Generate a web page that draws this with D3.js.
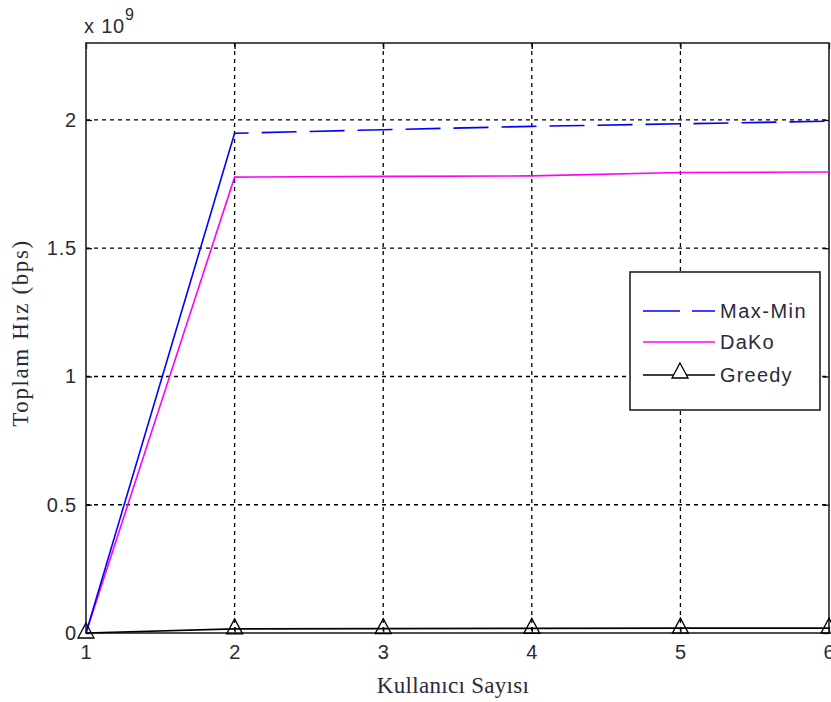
<!DOCTYPE html>
<html><head><meta charset="utf-8">
<script src="https://cdn.jsdelivr.net/npm/d3@7"></script>
<style>body{margin:0;background:#fff}</style>
</head><body>
<svg id="c" width="831" height="702"></svg>
<script>
const users = [1, 2, 3, 4, 5, 6];
const maxMin = [0, 1.948, 1.962, 1.975, 1.985, 1.995];
const dako   = [0, 1.777, 1.780, 1.782, 1.795, 1.797];
const greedy = [0, 0.016, 0.017, 0.018, 0.019, 0.019];
const xTicks = [1, 2, 3, 4, 5, 6];
const yTicks = [0, 0.5, 1, 1.5, 2];
const yTickLabels = ["0", "0.5", "1", "1.5", "2"];
const seriesNames = ["Max-Min", "DaKo", "Greedy"];

const svg = d3.select("#c");
const L = 86, R = 829, T = 43, B = 633;
const x = d3.scaleLinear().domain([1, 6]).range([L, R]);
const y = d3.scaleLinear().domain([0, 2.3]).range([B, T]);

// grid
const g = svg.append("g");
g.selectAll(".vg").data(xTicks.slice(1, -1)).enter().append("line")
  .attr("x1", d => x(d)).attr("x2", d => x(d)).attr("y1", T).attr("y2", B)
  .attr("stroke", "#000").attr("stroke-width", 1.3).attr("stroke-dasharray", "4,4");
g.selectAll(".hg").data(yTicks.slice(1)).enter().append("line")
  .attr("x1", L).attr("x2", R).attr("y1", d => y(d)).attr("y2", d => y(d))
  .attr("stroke", "#000").attr("stroke-width", 1.3).attr("stroke-dasharray", "4,4");

// axes
const fontTick = "'Liberation Sans', Arial, sans-serif";
const xAxis = d3.axisBottom(x).tickValues(xTicks).tickSize(-6).tickPadding(12).tickFormat(d3.format("d"));
svg.append("g").attr("transform", `translate(0,${B})`).call(xAxis);
const xAxisTop = d3.axisTop(x).tickValues(xTicks).tickSize(-6).tickFormat("");
svg.append("g").attr("transform", `translate(0,${T})`).call(xAxisTop);
const yAxis = d3.axisLeft(y).tickValues(yTicks).tickSize(-6).tickPadding(9).tickFormat((d, i) => yTickLabels[i]);
svg.append("g").attr("transform", `translate(${L},0)`).call(yAxis);
const yAxisR = d3.axisRight(y).tickValues(yTicks).tickSize(-6).tickFormat("");
svg.append("g").attr("transform", `translate(${R},0)`).call(yAxisR);
svg.selectAll(".domain").remove();
svg.selectAll(".tick line").attr("stroke", "#000").attr("stroke-width", 1.3);
svg.selectAll(".tick text").attr("font-family", fontTick).attr("font-size", 20)
  .attr("letter-spacing", 0.8).attr("fill", "#2a2a3a");

// frame
svg.append("rect").attr("x", L).attr("y", T).attr("width", R - L).attr("height", B - T)
  .attr("fill", "none").attr("stroke", "#222").attr("stroke-width", 1.6);

// multiplier
const mult = svg.append("text").attr("x", 84).attr("y", 33).attr("font-family", fontTick)
  .attr("font-size", 20).attr("letter-spacing", 0.8).attr("fill", "#2a2a3a").text("x 10");
mult.append("tspan").attr("dy", -13).attr("font-size", 16).text("9");

// triangle marker (bbox 16 x 15, data point at 2/3 height)
const triPath = (cx, cy) => `M${cx},${cy - 10}L${cx + 8},${cy + 5}L${cx - 8},${cy + 5}Z`;

// lines
const line = d3.line().x((d, i) => x(users[i])).y(d => y(d));
svg.append("path").datum(dako).attr("d", line).attr("fill", "none")
  .attr("stroke", "#ff00ff").attr("stroke-width", 1.6);
// Max-Min: rising segment drawn solid, the rest dashed (as rendered in the reference)
svg.append("path").datum(maxMin.slice(0, 2)).attr("d", line).attr("fill", "none")
  .attr("stroke", "#0000ff").attr("stroke-width", 1.6);
const line2 = d3.line().x((d, i) => x(users[i + 1])).y(d => y(d));
svg.append("path").datum(maxMin.slice(1)).attr("d", line2).attr("fill", "none")
  .attr("stroke", "#0000ff").attr("stroke-width", 1.6)
  .attr("stroke-dasharray", "35,13").attr("stroke-dashoffset", 21);
svg.append("path").datum(greedy).attr("d", line).attr("fill", "none")
  .attr("stroke", "#000").attr("stroke-width", 1.6);
svg.selectAll(".gm").data(greedy).enter().append("path")
  .attr("d", (d, i) => triPath(x(users[i]), y(d)))
  .attr("fill", "none").attr("stroke", "#000").attr("stroke-width", 1.3);

// legend
const lg = svg.append("g");
lg.append("rect").attr("x", 630).attr("y", 272).attr("width", 190).attr("height", 138)
  .attr("fill", "#fff").attr("stroke", "#222").attr("stroke-width", 1.6);
const ly = [311, 342, 375];
const lStyles = [{c: "#0000ff", dash: "37,12"}, {c: "#ff00ff", dash: null}, {c: "#000", dash: null}];
seriesNames.forEach((name, i) => {
  const ln = lg.append("line").attr("x1", 643).attr("x2", 715).attr("y1", ly[i]).attr("y2", ly[i])
    .attr("stroke", lStyles[i].c).attr("stroke-width", 1.6);
  if (lStyles[i].dash) ln.attr("stroke-dasharray", lStyles[i].dash);
  lg.append("text").attr("x", 720).attr("y", ly[i] + 7).attr("font-family", fontTick)
    .attr("font-size", 20).attr("fill", "#2a2a3a").attr("letter-spacing", i === 0 ? 1.5 : 1.2).text(name);
});
lg.append("path").attr("d", triPath(680, ly[2] - 2))
  .attr("fill", "#fff").attr("stroke", "#000").attr("stroke-width", 1.3);

// axis titles
const fontSerif = "'Liberation Serif', 'Times New Roman', serif";
svg.append("text").attr("x", 453).attr("y", 693).attr("text-anchor", "middle")
  .attr("font-family", fontSerif).attr("font-size", 23).attr("letter-spacing", 0.3)
  .attr("fill", "#2a2a3a").text("Kullanıcı Sayısı");
svg.append("text").attr("transform", "translate(28,333) rotate(-90)").attr("text-anchor", "middle")
  .attr("font-family", fontSerif).attr("font-size", 23).attr("letter-spacing", 1.6)
  .attr("fill", "#2a2a3a").text("Toplam Hız (bps)");
</script>
</body></html>
